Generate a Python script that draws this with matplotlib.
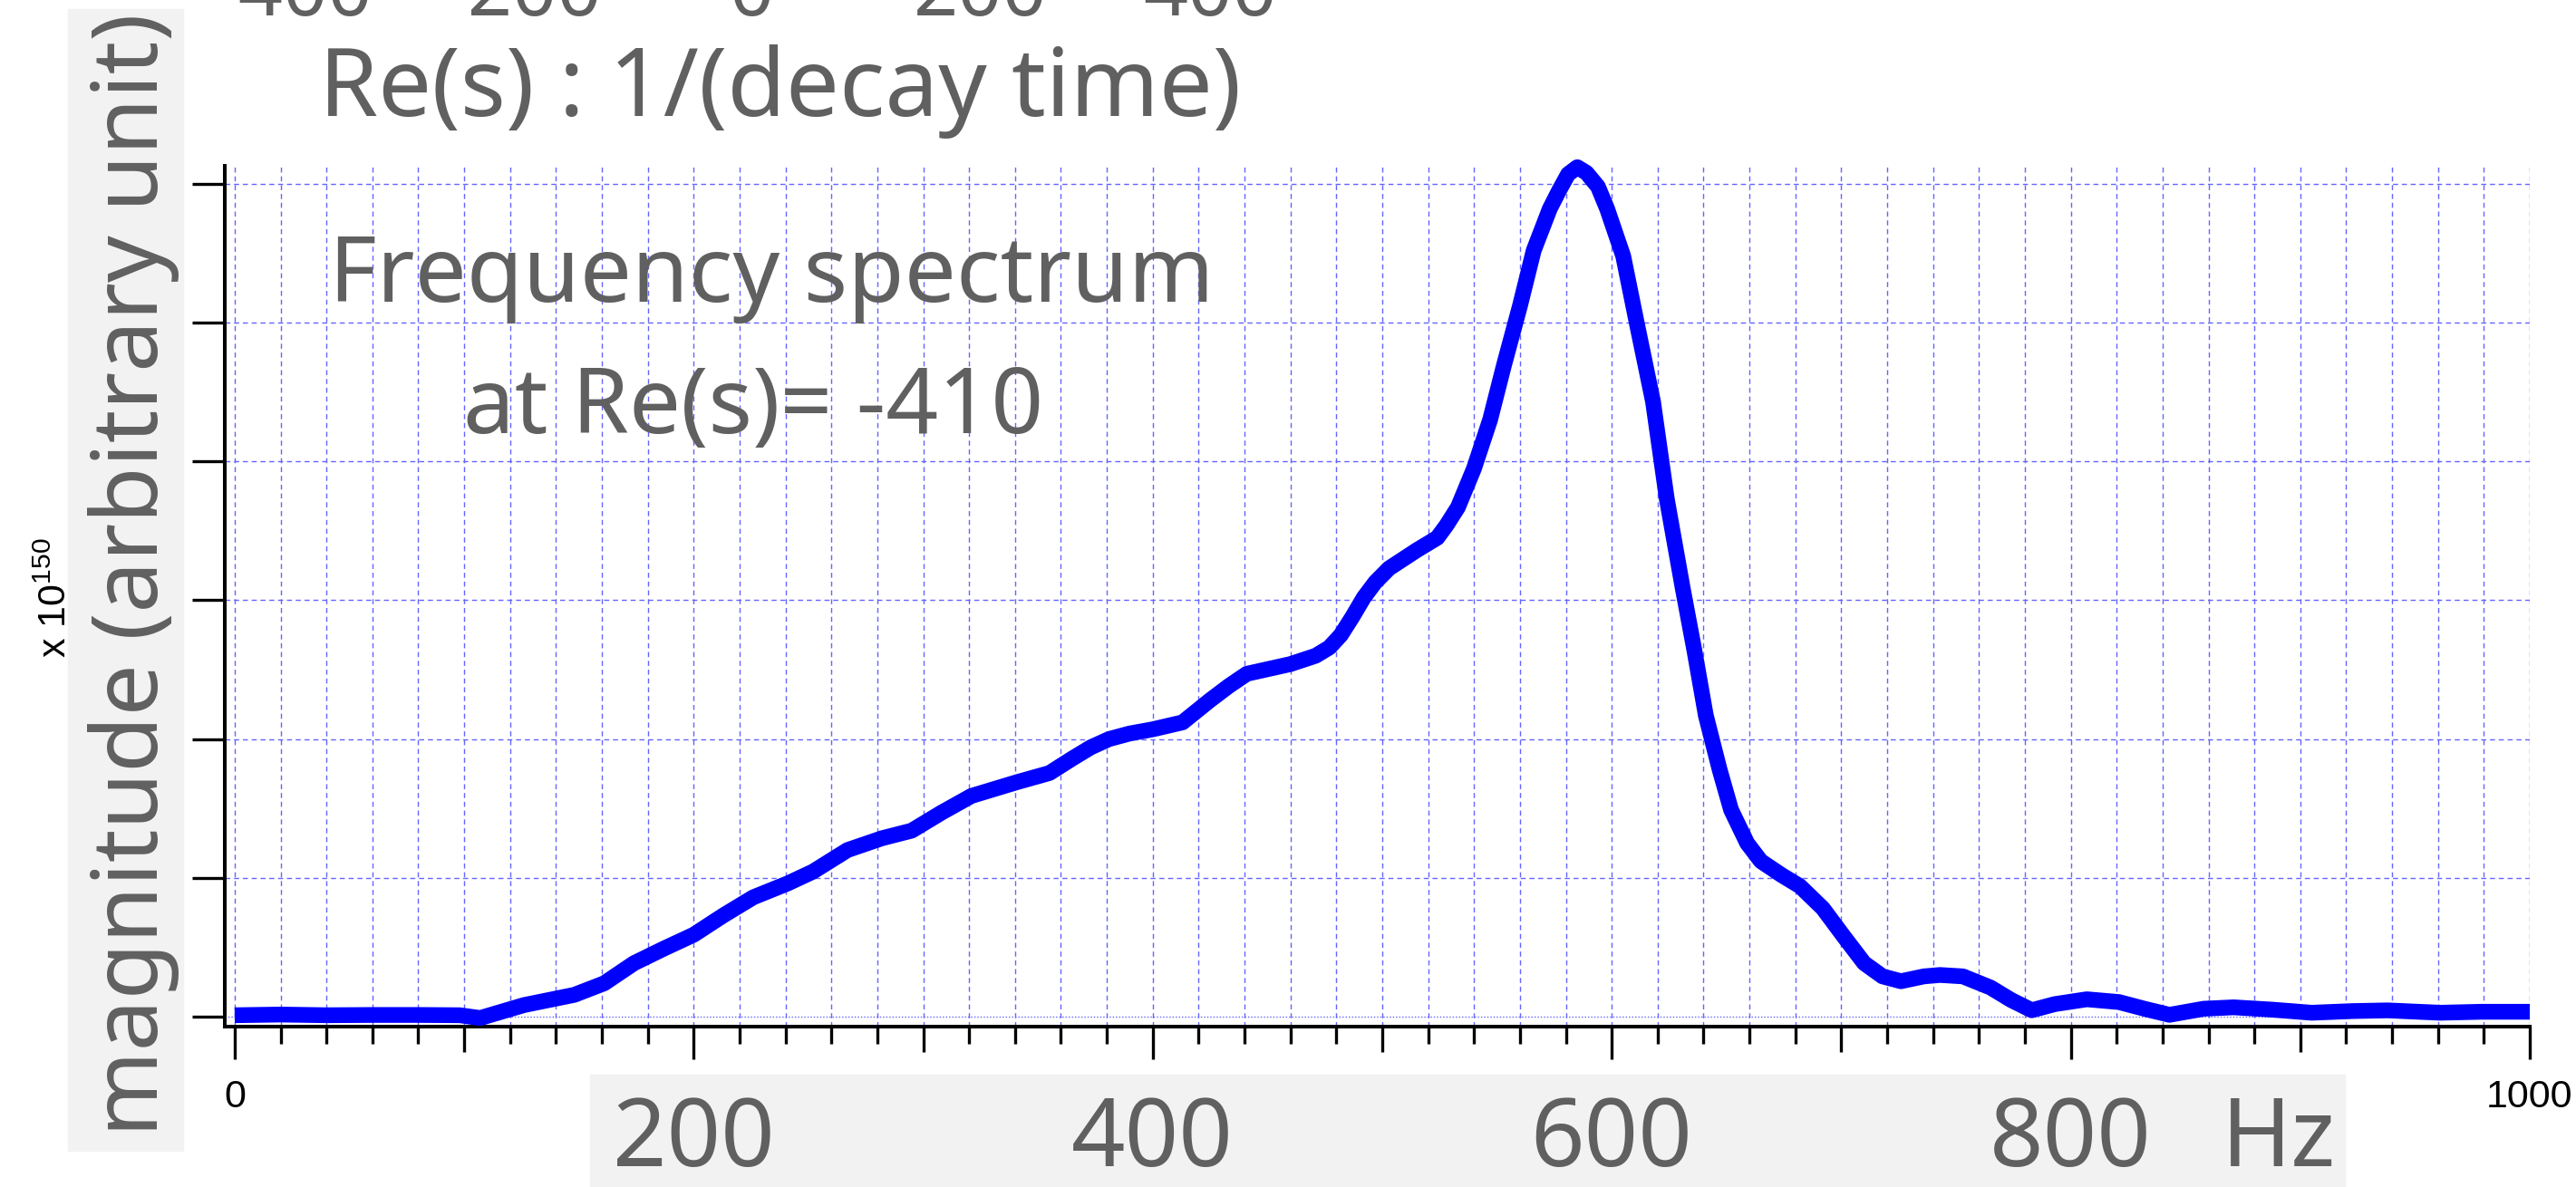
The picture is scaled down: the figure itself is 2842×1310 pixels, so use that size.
import numpy as np
import matplotlib
matplotlib.use("Agg")
import matplotlib.pyplot as plt
from matplotlib.patches import Rectangle

# spectrum |F(f)| at Re(s) = -410, in units of 1e150
freq = [0, 20, 40, 60, 80, 98, 107, 126, 148, 161, 174, 187, 200, 213, 226, 241,
        252, 267, 282, 295, 308, 321, 335, 341, 355, 365, 373, 381, 390, 400, 413,
        425, 433, 441, 460, 471, 477, 482, 487, 492, 497, 503, 515, 524, 528, 533,
        540, 547, 553, 560, 566, 573, 577, 581, 585, 589, 594, 598, 605, 611, 618,
        624, 631, 636, 641, 647, 652, 659, 665, 674, 682, 692, 701, 710, 718, 726,
        736, 743, 753, 765, 774, 783, 793, 807, 821, 832, 843, 858, 871, 888, 905,
        923, 938, 961, 979, 1000]
mag = [0.01, 0.015, 0.01, 0.012, 0.012, 0.01, -0.01, 0.083, 0.157, 0.24, 0.385,
       0.49, 0.59, 0.73, 0.86, 0.96, 1.045, 1.20, 1.285, 1.34, 1.47, 1.59, 1.66,
       1.69, 1.755, 1.86, 1.94, 2.0, 2.04, 2.07, 2.12, 2.28, 2.38, 2.47, 2.54,
       2.60, 2.66, 2.75, 2.88, 3.02, 3.13, 3.23, 3.36, 3.45, 3.54, 3.67, 3.95,
       4.30, 4.69, 5.12, 5.52, 5.82, 5.95, 6.07, 6.12, 6.08, 5.98, 5.82, 5.48,
       4.99, 4.43, 3.73, 3.08, 2.64, 2.17, 1.78, 1.49, 1.25, 1.12, 1.02, 0.94,
       0.78, 0.58, 0.385, 0.29, 0.255, 0.29, 0.30, 0.29, 0.21, 0.12, 0.046, 0.09,
       0.125, 0.105, 0.057, 0.013, 0.057, 0.067, 0.05, 0.028, 0.04, 0.045, 0.028,
       0.035, 0.035]
assert len(freq) == len(mag)

hz_big_ticks = [200, 400, 600, 800]
hz_small_ticks = {0: "0", 1000: "1000"}
re_ticks = [-400, -200, 0, 200, 400]
mag_ticks = [0, 1, 2, 3, 4, 5, 6]

gray = "#606060"
big_font = "Noto Sans"
small_font = "Liberation Sans"
plt.rcParams["mathtext.fontset"] = "custom"
plt.rcParams["mathtext.rm"] = small_font

W, H = 2842, 1310
fig = plt.figure(figsize=(W / 100, H / 100), dpi=100)

def fx(x):
    return x / W

def fy(y):
    return 1 - y / H

# grey backgrounds behind the big labels
fig.patches.append(Rectangle((fx(651), 0), fx(2587) - fx(651), fy(1186),
                             transform=fig.transFigure, color="#f2f2f2", zorder=-1))
fig.patches.append(Rectangle((fx(75), fy(1270)), fx(202) - fx(75), fy(10) - fy(1270),
                             transform=fig.transFigure, color="#f2f2f2", zorder=-1))

ax = fig.add_axes([fx(248), fy(1133), fx(2791) - fx(248), fy(183) - fy(1133)])
ax.plot(freq, mag, color="#0000ff", lw=12.5, solid_capstyle="butt",
        solid_joinstyle="round", clip_on=False, zorder=3)
ax.set_xlim(-4.3, 1000)
ax.set_ylim(-0.072, 6.13)

for side in ["top", "right"]:
    ax.spines[side].set_visible(False)
for side in ["left", "bottom"]:
    ax.spines[side].set_linewidth(2.9)

major_x = np.arange(0, 1001, 100)
ax.set_xticks(major_x)
ax.set_xticks(np.arange(0, 1001, 20), minor=True)
ax.set_xticklabels([hz_small_ticks.get(int(v), "") for v in major_x],
                   fontsize=31, family=small_font)
ax.set_yticks(mag_ticks)
ax.tick_params(axis="x", which="major", direction="out", length=26, width=2.4, pad=16)
ax.tick_params(axis="x", which="minor", direction="out", length=14, width=2.4)
ax.tick_params(axis="y", direction="out", length=26, width=2.4, labelleft=False)

# the 100s get a medium tick, the 200s keep the long one
for tick, v in zip(ax.xaxis.get_major_ticks(), major_x):
    if v % 200 != 0:
        tick.tick1line.set_markersize(20)

grid_kw = dict(color="#6464ff", lw=1.0, ls=(0, (4, 3)))
ax.grid(True, axis="x", which="both", **grid_kw)
ax.grid(True, axis="y", which="major", **grid_kw)
ax.yaxis.get_major_ticks()[0].gridline.set_linestyle((0, (1, 1.5)))
ax.set_axisbelow(True)

# big frequency labels under the axis
for v in hz_big_ticks:
    ax.text(v, -0.162, str(v), transform=ax.get_xaxis_transform(), ha="center",
            va="baseline", fontsize=75, color=gray, family=big_font)
ax.annotate("Hz", xy=(800, -0.162), xycoords=ax.get_xaxis_transform(),
            xytext=(120, 0), textcoords="offset points", ha="left", va="baseline",
            fontsize=75, color=gray, family=big_font)

# Re(s) scale, cut by the top edge
ax_re = fig.add_axes([fx(323), fy(17), fx(1335) - fx(323), 1e-4])
ax_re.set_xlim(-400, 400)
ax_re.axis("off")
for v in re_ticks:
    ax_re.text(v, 0, str(v), transform=ax_re.get_xaxis_transform(), ha="center",
               va="baseline", fontsize=62, color=gray, family=big_font, clip_on=False)

fig.text(fx(352), fy(128), "Re(s) : 1/(decay time)", ha="left", va="baseline",
         fontsize=75.5, color=gray, family=big_font)
fig.text(fx(363), fy(333), "Frequency spectrum", ha="left", va="baseline",
         fontsize=73, color=gray, family=big_font)
fig.text(fx(511), fy(478), "at Re(s)= -410", ha="left", va="baseline",
         fontsize=73, color=gray, family=big_font)

fig.text(fx(148), fy(634), "magnitude (arbitrary unit)", rotation=90, ha="center",
         va="center", fontsize=73, color=gray, family=big_font)
fig.text(fx(62), fy(660), r"x 10$^{150}$", rotation=90, ha="center", va="center",
         fontsize=31, color="black", family=small_font)

fig.savefig("out.png", dpi=100)
